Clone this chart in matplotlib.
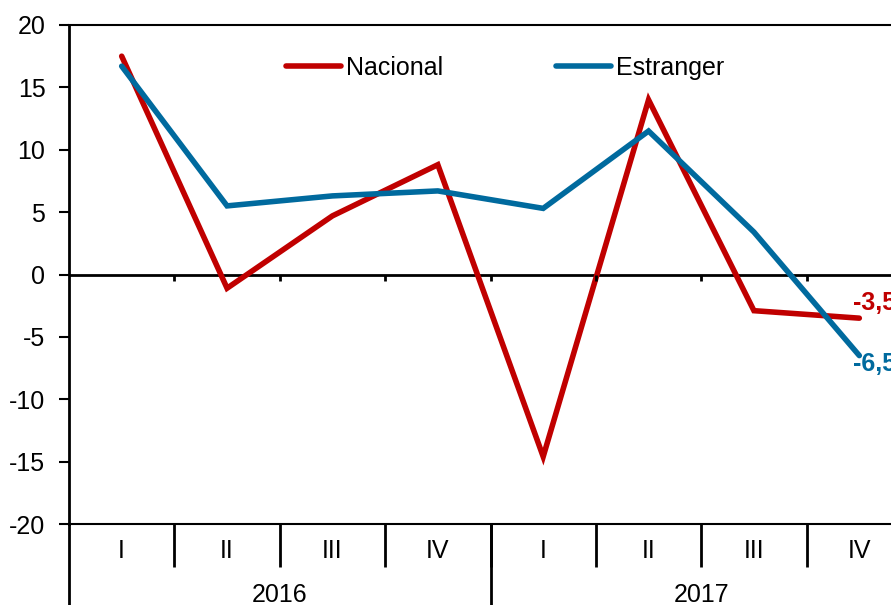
import numpy as np
from matplotlib import pyplot as plt
import matplotlib.transforms as mtransforms

plt.rcParams['font.family'] = ['Liberation Sans', 'DejaVu Sans']
plt.rcParams['axes.unicode_minus'] = False

# data
quarters = ['I', 'II', 'III', 'IV', 'I', 'II', 'III', 'IV']
years = ['2016', '2017']
nacional = [17.5, -1.1, 4.7, 8.8, -14.6, 14.0, -2.9, -3.5]
estranger = [16.7, 5.5, 6.3, 6.7, 5.3, 11.5, 3.4, -6.5]

red = '#C00000'
blue = '#006A9E'

fig = plt.figure(figsize=(8.91, 6.05), dpi=100)
ax = fig.add_axes([69/891, 1 - 524/605, 843/891, 499/605])

x = np.arange(len(quarters))
ax.plot(x, nacional, color=red, lw=4, solid_capstyle='round', solid_joinstyle='miter', label='Nacional')
ax.plot(x, estranger, color=blue, lw=4, solid_capstyle='round', solid_joinstyle='miter', label='Estranger')

ax.set_xlim(-0.5, len(quarters) - 0.5)
ax.set_ylim(-20, 20)
ax.set_yticks(np.arange(-20, 21, 5))

# zero line with small ticks at category boundaries
ax.axhline(0, color='black', lw=2, zorder=1)
ax.vlines(np.arange(0.5, len(quarters) - 1, 1), 0, -0.55, color='black', lw=2)

for s in ['top', 'bottom']:
    ax.spines[s].set_linewidth(1.5)
ax.spines['left'].set_linewidth(2)
ax.spines['right'].set_visible(False)

ax.tick_params(axis='y', direction='out', length=7, width=1.5, labelsize=18, pad=10)
# category separators as major ticks, labels as minor ticks
ax.set_xticks(np.arange(0.5, len(quarters), 1))
ax.set_xticklabels([])
ax.tick_params(axis='x', which='major', direction='out', length=31, width=2)
ax.set_xticks(x, minor=True)
ax.set_xticklabels(quarters, minor=True)
ax.tick_params(axis='x', which='minor', length=0, labelsize=18, pad=11)

# year labels and separators
trans = mtransforms.blended_transform_factory(ax.transData, ax.transAxes)
for i, yr in enumerate(years):
    ax.text(1.5 + 4*i, -0.142, yr, transform=trans, ha='center', va='center', fontsize=18)
for xb in [-0.5, 3.5, 7.5]:
    ax.plot([xb, xb], [0, -0.2], transform=trans, color='black', lw=2, clip_on=False)

# end value labels
ax.annotate('-3,5', xy=(x[-1], nacional[-1]), xytext=(-6, 15), textcoords='offset pixels',
            color=red, fontsize=18, fontweight='bold', ha='left', va='center')
ax.annotate('-6,5', xy=(x[-1], estranger[-1]), xytext=(-6, -8), textcoords='offset pixels',
            color=blue, fontsize=18, fontweight='bold', ha='left', va='center')

ax.legend(ncol=2, loc='center', bbox_to_anchor=(0.517, 0.914), frameon=False,
          handlelength=2.2, handletextpad=0.2, columnspacing=4.5, fontsize=18)

fig.savefig('out.png', dpi=100)
